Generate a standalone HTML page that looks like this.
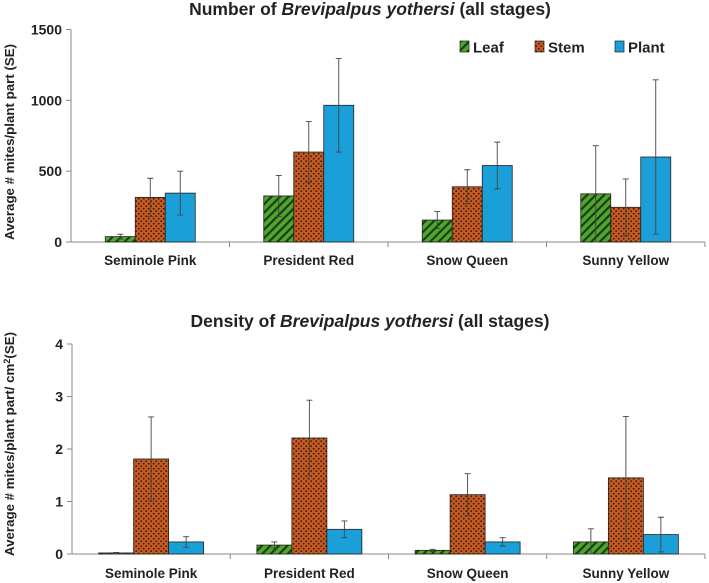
<!DOCTYPE html>
<html><head><meta charset="utf-8"><style>
body{margin:0;background:#fff;}
svg{display:block;font-family:"Liberation Sans",sans-serif;}
</style></head><body>
<svg id="chart" width="709" height="583" xmlns="http://www.w3.org/2000/svg">
<defs>
<pattern id="leafPat" width="6" height="6" patternUnits="userSpaceOnUse" patternTransform="rotate(45)">
<rect width="6" height="6" fill="#4ea72e"/><rect width="2.2" height="6" fill="#1e3d12"/></pattern>
<pattern id="stemPat" width="5" height="5" patternUnits="userSpaceOnUse">
<rect width="5" height="5" fill="#c55a22"/><circle cx="1.2" cy="1.2" r="0.9" fill="#3a1a08"/><circle cx="3.7" cy="3.7" r="0.9" fill="#3a1a08"/></pattern>
</defs>
</svg>
<script>
const categories=["Seminole Pink","President Red","Snow Queen","Sunny Yellow"];
const seriesNames=["Leaf","Stem","Plant"];
const numLeaf=[38,325,155,340];
const numStem=[315,635,390,245];
const numPlant=[345,965,540,600];
const numLeafSE=[17,145,60,340];
const numStemSE=[135,215,120,200];
const numPlantSE=[155,330,165,545];
const numTicks=[0,500,1000,1500];
const denLeaf=[0.02,0.17,0.07,0.23];
const denStem=[1.81,2.21,1.13,1.45];
const denPlant=[0.23,0.47,0.23,0.37];
const denLeafSE=[0.01,0.06,0.02,0.25];
const denStemSE=[0.8,0.72,0.4,1.17];
const denPlantSE=[0.1,0.16,0.08,0.33];
const denTicks=[0,1,2,3,4];

const NS="http://www.w3.org/2000/svg";
const svg=document.getElementById('chart');
function mk(tag,attrs,parent){const e=document.createElementNS(NS,tag);for(const k in attrs)e.setAttribute(k,attrs[k]);(parent||svg).appendChild(e);return e;}
const fills=["url(#leafPat)","url(#stemPat)","#1a9fd8"];

function drawChart(cfg){
  const g=mk('g',{});
  
  
  const x0=cfg.x0,x1=cfg.x1,y0=cfg.y0,yTop=cfg.yTop,max=cfg.max;
  const yS=v=>y0-(v/max)*(y0-yTop);
  const gw=(x1-x0)/categories.length;
  const t=mk('text',{x:370,y:cfg.titleY,'text-anchor':'middle','font-size':17.5,'font-weight':'bold',fill:'#222'},g);
  
  
  t.innerHTML=cfg.titlePre+'<tspan font-style="italic">Brevipalpus yothersi</tspan> (all stages)';
  cfg.ticks.forEach(v=>{
    const y=yS(v);
    mk('line',{x1:x0-5,x2:x0,y1:y,y2:y,stroke:'#888'},g);
    const l=mk('text',{x:x0-9,y:y+5,'text-anchor':'end','font-size':14,'font-weight':'bold',fill:'#222'},g);
    
    
    l.textContent=v;
  });
  mk('line',{x1:x0,x2:x0,y1:yTop,y2:y0,stroke:'#888'},g);
  mk('line',{x1:x0,x2:x1,y1:y0,y2:y0,stroke:'#888'},g);
  const ya=mk('text',{x:0,y:0,'text-anchor':'middle','font-size':cfg.ylFont,'font-weight':'bold',fill:'#222',transform:`translate(14,${cfg.ylabelY}) rotate(-90)`},g);
  
  
  ya.innerHTML=cfg.ylabel;
  categories.forEach((c,i)=>{
    const cx=x0+gw*(i+0.5)+cfg.shift;
    mk('line',{x1:x0+gw*(i+1),x2:x0+gw*(i+1),y1:y0,y2:y0+5,stroke:'#888'},g);
    const l=mk('text',{x:cx,y:cfg.catY,'text-anchor':'middle','font-size':13.5,'font-weight':'bold',fill:'#222'},g);
    
    
    l.textContent=c;
    cfg.series.forEach((s,j)=>{
      const bx=cx-1.5*cfg.bw+j*cfg.bw;
      const v=s[i],se=cfg.se[j][i];
      const r=mk('rect',{x:bx,y:yS(v),width:cfg.bw,height:y0-yS(v),fill:fills[j],stroke:'#222','stroke-width':0.8},g);
      
      
      const ex=bx+cfg.bw/2,hi=yS(v+se),lo=yS(Math.max(0,v-se));
      const eb=mk('path',{d:`M${ex},${hi}V${lo}M${ex-3},${hi}H${ex+3}M${ex-3},${lo}H${ex+3}`,stroke:'#444','stroke-width':0.9,fill:'none'},g);
      
      
    });
  });
}
drawChart({name:'number-chart',x0:71,x1:705,y0:242,yTop:29.5,max:1500,ticks:numTicks,titleY:15,titlePre:'Number of ',catY:265,shift:0,bw:30,
  series:[numLeaf,numStem,numPlant],se:[numLeafSE,numStemSE,numPlantSE],ylabelY:142,ylFont:13.3,ylabel:'Average # mites/plant part (SE)'});
drawChart({name:'density-chart',x0:72,x1:705,y0:554,yTop:344,max:4,ticks:denTicks,titleY:327,titlePre:'Density of ',catY:578,shift:0,bw:35,
  series:[denLeaf,denStem,denPlant],se:[denLeafSE,denStemSE,denPlantSE],ylabelY:444,ylFont:13.3,ylabel:'Average # mites/plant part/ cm<tspan dy="-4" font-size="9">2</tspan><tspan dy="4">(SE)</tspan>'});
const lg=mk('g',{});


[[460,'Leaf'],[535,'Stem'],[615,'Plant']].forEach((p,j)=>{
  const e=mk('g',{},lg);
  
  
  mk('rect',{x:p[0],y:41,width:9,height:11,fill:fills[j],stroke:'#222','stroke-width':0.7},e);
  const t=mk('text',{x:p[0]+13,y:52.5,'font-size':15,'font-weight':'bold',fill:'#222'},e);
  t.textContent=p[1];
});
</script>
</body></html>
